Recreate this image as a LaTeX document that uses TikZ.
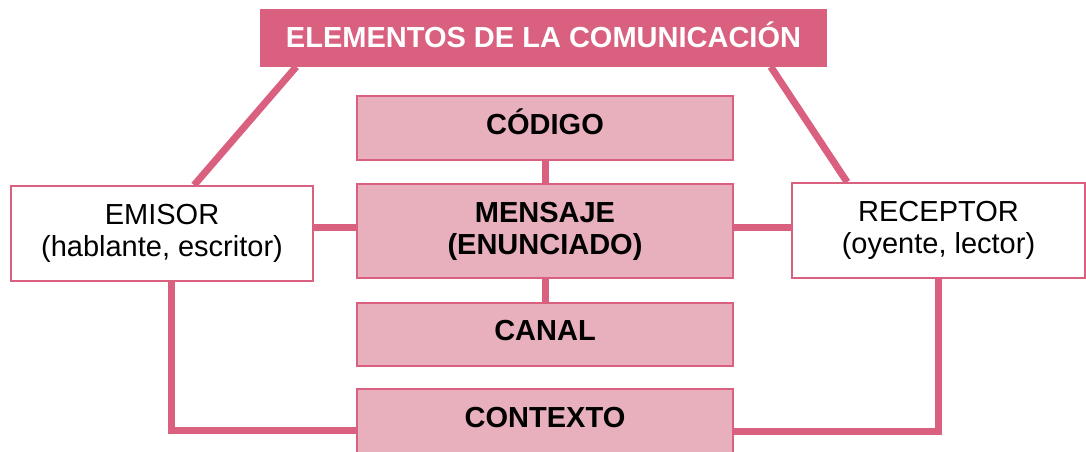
\documentclass[tikz,border=0pt]{standalone}
\usepackage{fontspec}
\setmainfont{Liberation Sans}
\usetikzlibrary{calc}
\definecolor{darkpink}{HTML}{D9617F}
\definecolor{lightpink}{HTML}{E8AFBD}
\tikzset{
  titlebox/.style={draw=darkpink, line width=1.5pt, fill=darkpink, text=white,
    font=\fontsize{29}{32}\selectfont\bfseries, inner sep=0pt, align=center},
  midbox/.style={draw=darkpink, line width=1.8pt, fill=lightpink, text=black,
    font=\fontsize{29}{32}\selectfont\bfseries, inner sep=0pt, align=center,
    minimum width=376pt},
  sidebox/.style={draw=darkpink, line width=1.8pt, fill=white, text=black,
    font=\fontsize{29}{32}\selectfont, inner sep=0pt, align=center},
  link/.style={draw=darkpink, line width=7pt},
}
\newcommand{\titletext}{\raisebox{6pt}{ELEMENTOS DE LA COMUNICACIÓN}}
\newcommand{\codigotext}{\raisebox{12pt}{CÓDIGO}}
\newcommand{\canaltext}{\raisebox{8pt}{CANAL}}
\newcommand{\contextotext}{\raisebox{18pt}{CONTEXTO}}
\begin{document}
\begin{tikzpicture}[x=1pt,y=1pt]
\useasboundingbox (0,0) rectangle (1086,-451);
\clip (0,0) rectangle (1086,-451);
\fill[white] (0,0) rectangle (1086,-451);
% nodes
\node[titlebox, minimum width=565pt, minimum height=56pt] (title) at (543.5,-38) {\titletext};
\node[midbox, minimum height=64pt] (codigo) at (545,-128) {\codigotext};
\node[midbox, minimum height=94pt] (mensaje) at (545,-231) {MENSAJE\\(ENUNCIADO)};
\node[midbox, minimum height=63pt] (canal) at (545,-334.5) {\canaltext};
\node[midbox, minimum height=74pt] (contexto) at (545,-426) {\contextotext};
\node[sidebox, minimum width=302pt, minimum height=95pt] (emisor) at (162,-233.5) {EMISOR\\(hablante, escritor)};
\node[sidebox, minimum width=293pt, minimum height=95pt] (receptor) at (938.5,-230.5) {RECEPTOR\\(oyente, lector)};
% connectors
\coordinate (tl) at ($(title.south west)+(36,0)$);
\coordinate (tr) at ($(title.south east)+(-56,0)$);
\coordinate (el) at ($(emisor.north west)+(184,0)$);
\coordinate (rl) at ($(receptor.north west)+(56,0)$);
\draw[link] (tl) -- (el);
\draw[link] (tr) -- (rl);
\draw[link] (codigo.south) -- (mensaje.north);
\draw[link] (mensaje.south) -- (canal.north);
\coordinate (ml) at ($(mensaje.west)+(0,4)$);
\coordinate (mr) at ($(mensaje.east)+(0,4)$);
\draw[link] (ml) -- (ml -| emisor.east);
\draw[link] (mr) -- (mr -| receptor.west);
\coordinate (eb) at ($(emisor.south west)+(161,0)$);
\coordinate (cl) at ($(contexto.west)+(0,-4)$);
\coordinate (cr) at ($(contexto.east)+(0,-5)$);
\draw[link, line join=miter] (eb) -- (eb |- cl) -- (cl);
\draw[link, line join=miter] (receptor.south) -- (receptor.south |- cr) -- (cr);
% redraw boxes on top of connector ends
\node[titlebox, minimum width=565pt, minimum height=56pt] at (title) {\titletext};
\node[midbox, minimum height=64pt] at (codigo) {\codigotext};
\node[midbox, minimum height=94pt] at (mensaje) {MENSAJE\\(ENUNCIADO)};
\node[midbox, minimum height=63pt] at (canal) {\canaltext};
\node[midbox, minimum height=74pt] at (contexto) {\contextotext};
\node[sidebox, minimum width=302pt, minimum height=95pt] at (emisor) {EMISOR\\(hablante, escritor)};
\node[sidebox, minimum width=293pt, minimum height=95pt] at (receptor) {RECEPTOR\\(oyente, lector)};
\end{tikzpicture}
\end{document}
